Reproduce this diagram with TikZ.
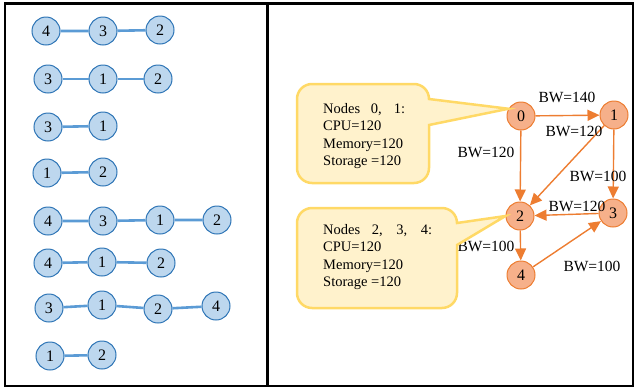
\documentclass[tikz,border=0pt]{standalone}
\usepackage{fontspec}
\setmainfont{Liberation Serif}
\usetikzlibrary{arrows.meta}

\definecolor{chainfill}{RGB}{189,215,238}
\definecolor{chainline}{RGB}{46,117,182}
\definecolor{chainlink}{RGB}{91,155,213}
\definecolor{hostfill}{RGB}{246,176,138}
\definecolor{hostline}{RGB}{237,125,49}
\definecolor{notefill}{RGB}{255,242,204}
\definecolor{noteline}{RGB}{255,217,102}

\tikzset{
    vnf/.style={circle, draw=chainline, fill=chainfill, line width=1pt,
        minimum size=28pt, inner sep=0pt, font=\fontsize{16}{16}\selectfont},
    vlink/.style={chainlink, line width=2.6pt},
    host/.style={circle, draw=hostline, fill=hostfill, line width=1pt,
        minimum size=28pt, inner sep=0pt, font=\fontsize{16}{16}\selectfont},
    plink/.style={hostline, line width=1.4pt, -{Triangle[width=11pt,length=12pt]}},
    bw/.style={font=\fontsize{15.5}{16}\selectfont, inner sep=0pt},
    note/.style={draw=noteline, fill=notefill, line width=2.5pt},
    notetext/.style={align=left, anchor=north west, inner sep=0pt,
        font=\fontsize{14.5}{17.5}\selectfont}
}

\begin{document}
\begin{tikzpicture}[x=1pt, y=-1pt]

        \useasboundingbox (0,0) rectangle (635,389);

        % frame
        \draw[line width=2.5pt] (5,3.5) rectangle (633,386);
        \draw[line width=2.5pt] (267.5,3.5) -- (267.5,386);

        % chains

        \node[vnf] (a4) at (46,31) {4};
        \node[vnf] (a3) at (103,31) {3};
        \node[vnf] (a2) at (160,30) {2};
        \draw[vlink] (a4) -- (a3) -- (a2);

        \node[vnf] (b3) at (48,79) {3};
        \node[vnf] (b1) at (103,79) {1};
        \node[vnf] (b2) at (158,79) {2};
        \draw[vlink] (b3) -- (b1) -- (b2);

        \node[vnf] (c3) at (48,127) {3};
        \node[vnf] (c1) at (103,126) {1};
        \draw[vlink] (c3) -- (c1);

        \node[vnf] (d1) at (47,173) {1};
        \node[vnf] (d2) at (103,172) {2};
        \draw[vlink] (d1) -- (d2);

        \node[vnf] (e4) at (48,221) {4};
        \node[vnf] (e3) at (103,221) {3};
        \node[vnf] (e1) at (160,220) {1};
        \node[vnf] (e2) at (217,220) {2};
        \draw[vlink] (e4) -- (e3) -- (e1) -- (e2);

        \node[vnf] (f4) at (48,263) {4};
        \node[vnf] (f1) at (102,262) {1};
        \node[vnf] (f2) at (161,263) {2};
        \draw[vlink] (f4) -- (f1) -- (f2);

        \node[vnf] (g3) at (49,308) {3};
        \node[vnf] (g1) at (102,305) {1};
        \node[vnf] (g2) at (158,309) {2};
        \node[vnf] (g4) at (216,306) {4};
        \draw[vlink] (g3) -- (g1) -- (g2) -- (g4);

        \node[vnf] (h1) at (50,356) {1};
        \node[vnf] (h2) at (102,355) {2};
        \draw[vlink] (h1) -- (h2);

        % physical network

        \node[host] (n0) at (521,116) {0};
        \node[host] (n1) at (614,115) {1};
        \node[host] (n2) at (520,216) {2};
        \node[host] (n3) at (613,213) {3};
        \node[host] (n4) at (521,275) {4};

        \draw[plink] (n0) -- (n1);
        \draw[plink] (n0) -- (n2);
        \draw[plink] (n1) -- (n2);
        \draw[plink] (n1) -- (n3);
        \draw[plink] (n3) -- (n2);
        \draw[plink] (n2) -- (n4);
        \draw[plink] (n4) -- (n3);

        \node[bw] (l01) at (567,97) {BW=140};
        \node[bw] (l12) at (574,131) {BW=120};
        \node[bw] (l02) at (486,152) {BW=120};
        \node[bw] (l13) at (598,176) {BW=100};
        \node[bw] (l32) at (577,206) {BW=120};
        \node[bw] (l24) at (486,246) {BW=100};
        \node[bw] (l43) at (592,266) {BW=100};

        % callouts (radius 15pt corners, pointer on the right side)

        \draw[note] (312,84) -- (414,84) arc[start angle=90, end angle=0, radius=15pt]
            -- (n0.150) -- (429,125) -- (429,168)
            arc[start angle=0, end angle=-90, radius=15pt] -- (312,183)
            arc[start angle=270, end angle=180, radius=15pt] -- (297,99)
            arc[start angle=180, end angle=90, radius=15pt] -- cycle;
        \node[notetext] (info01) at (323,103)
            {\makebox[82pt][s]{Nodes 0, 1:}\\CPU=120\\Memory=120\\Storage =120};

        \draw[note] (312,208) -- (442,208) arc[start angle=90, end angle=0, radius=15pt]
            -- (n2.west) -- (457,245) -- (457,293)
            arc[start angle=0, end angle=-90, radius=15pt] -- (312,308)
            arc[start angle=270, end angle=180, radius=15pt] -- (297,223)
            arc[start angle=180, end angle=90, radius=15pt] -- cycle;
        \node[notetext] (info234) at (323,224)
            {\makebox[109pt][s]{Nodes 2, 3, 4:}\\CPU=120\\Memory=120\\Storage =120};

    \end{tikzpicture}
\end{document}
